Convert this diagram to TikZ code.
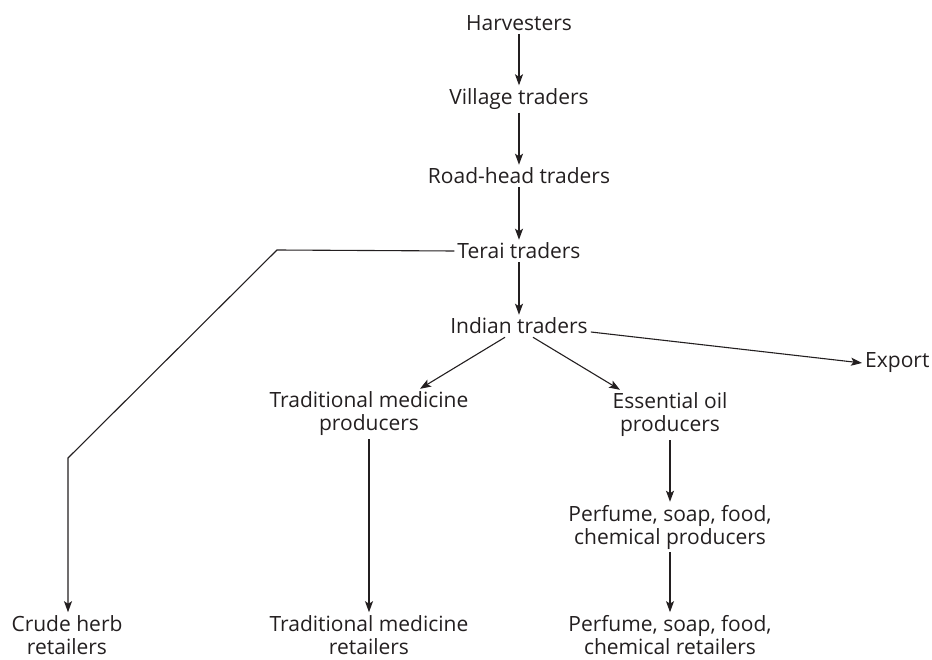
\documentclass[tikz,border=0pt]{standalone}
\usepackage{fontspec}
\setsansfont{Open Sans}
\usepackage{xcolor}
\usepackage{tikz}
\usetikzlibrary{positioning,arrows.meta,calc}
\definecolor{inkcol}{RGB}{35,31,32}

\begin{document}
\begin{tikzpicture}[
                x=1pt, y=-1pt,
                font=\sffamily\fontsize{21}{23}\selectfont,
                >={Stealth[length=11pt, width=8pt, inset=2.5pt]},
                stage/.style={align=center, text=inkcol, inner sep=3pt},
                flow/.style={->, line width=1.1pt, draw=inkcol}
                ]
                \useasboundingbox (0,0) rectangle (932,660);

                % main trading chain
                \node[stage] (harv) at (519,23) {Harvesters};
                \node[stage] (village) at (519,99) {Village traders};
                \node[stage] (road) at (519,176) {Road-head traders};
                \node[stage] (terai) at (519,251) {Terai traders};
                \node[stage] (indian) at (519,326) {Indian traders};
                \node[stage, anchor=west] (export) at (862,363) {Export};

                \node[stage] (tradprod) at (369,414) {Traditional medicine\\producers};
                \node[stage] (oilprod) at (670,415) {Essential oil\\producers};
                \node[stage] (perfprod) at (670,527) {Perfume, soap, food,\\chemical producers};

                \node[stage] (crude) at (67,635) {Crude herb\\retailers};
                \node[stage] (tradret) at (369,635) {Traditional medicine\\retailers};
                \node[stage] (perfret) at (670,635) {Perfume, soap, food,\\chemical retailers};

                \coordinate (bendA) at (277,250);
                \coordinate (bendB) at (68,458);

                \draw[flow] (harv) -- (village);
                \draw[flow] (village) -- (road);
                \draw[flow] (road) -- (terai);
                \draw[flow] (terai) -- (indian);
                \draw[flow] ([yshift=-6pt]indian.east) -- (export.west);
                \draw[flow] ([xshift=-14pt]indian.south) -- ([xshift=51pt]tradprod.north);
                \draw[flow] ([xshift=14pt]indian.south) -- ([xshift=-50pt]oilprod.north);
                \draw[flow] (tradprod) -- (tradret);
                \draw[flow] (oilprod) -- (perfprod);
                \draw[flow] (perfprod) -- (perfret);
                \draw[flow] (terai.west) -- (bendA) -- (bendB) -- (bendB |- crude.north);
            \end{tikzpicture}
\end{document}
